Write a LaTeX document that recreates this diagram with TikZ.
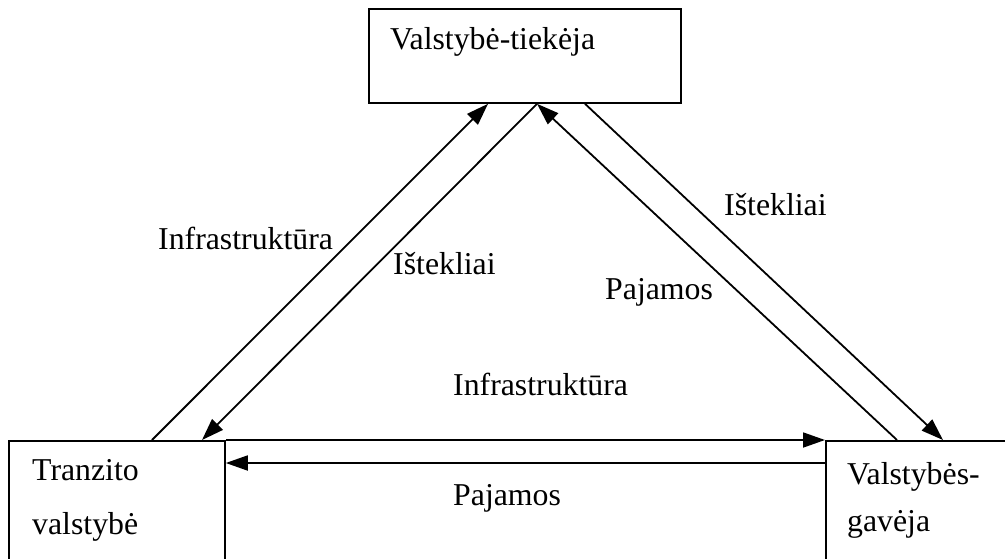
\documentclass[tikz,border=0pt]{standalone}
\usepackage{fontspec}
\setmainfont{Liberation Serif}
\usetikzlibrary{arrows.meta,calc}
\begin{document}
\begin{tikzpicture}[x=1pt,y=-1pt,
  box/.style={draw,line width=1.8pt,rectangle,inner sep=0pt,anchor=north west},
  lbl/.style={anchor=base west,inner sep=0pt,font=\fontsize{31.8}{38}\selectfont},
  flow/.style={line width=1.8pt,-{Triangle[length=22pt,width=15pt]}},
  plain/.style={line width=1.8pt}]
\useasboundingbox (0,0) rectangle (1005,558);
\clip (0,0) rectangle (1005,558);
\fill[white] (0,0) rectangle (1005,558);
% boxes
\node[box,minimum width=312pt,minimum height=94pt] (sup) at (368,8) {};
\node[box,minimum width=216pt,minimum height=160pt] (tr) at (8,440) {};
\node[box,minimum width=220pt,minimum height=160pt] (rc) at (825,440) {};
% box texts
\node[lbl] (supt) at (390,49) {Valstybė-tiekėja};
\node[lbl] (trt1) at (32,480) {Tranzito};
\node[lbl] (trt2) at (32,534) {valstybė};
\node[lbl] (rct1) at (847,484) {Valstybės-};
\node[lbl] (rct2) at (847,531) {gavėja};
% connector ends
\coordinate (s1) at ($(sup.south west)+(120,0)$);
\coordinate (s2) at ($(sup.south west)+(169,0)$);
\coordinate (s3) at ($(sup.south west)+(217,0)$);
\coordinate (t1) at ($(tr.north west)+(144,0)$);
\coordinate (t2) at ($(tr.north west)+(194,0)$);
\coordinate (r1) at ($(rc.north west)+(72,0)$);
\coordinate (r2) at ($(rc.north west)+(118,0)$);
% diagonal connectors
\draw[flow] (t1) -- (s1);
\draw[flow] (s2) -- (t2);
\draw[flow] (r1) -- (s2);
\draw[flow] (s3) -- (r2);
% horizontal connectors
\draw[flow] (tr.north east) -- (rc.north west);
\draw[flow] ($(rc.north west)+(0,23)$) -- ($(tr.north east)+(0,23)$);
% labels
\node[lbl] (l1) at (158,249) {Infrastruktūra};
\node[lbl] (l2) at (393,274) {Ištekliai};
\node[lbl] (l3) at (724,215) {Ištekliai};
\node[lbl] (l4) at (605,299) {Pajamos};
\node[lbl] (l5) at (453,395) {Infrastruktūra};
\node[lbl] (l6) at (453,505) {Pajamos};
\end{tikzpicture}
\end{document}
